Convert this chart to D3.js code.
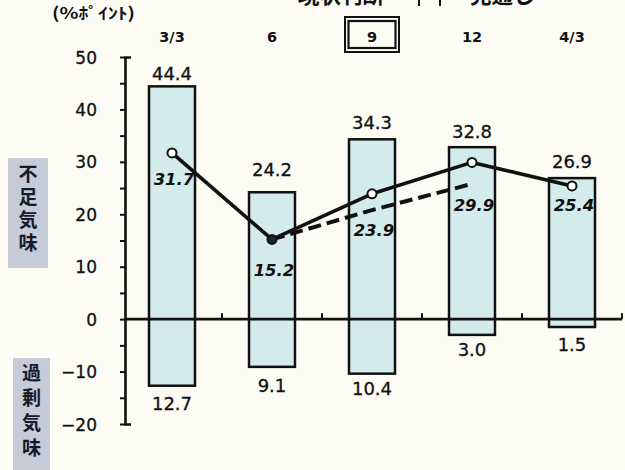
<!DOCTYPE html>
<html><head><meta charset="utf-8">
<script src="https://cdn.jsdelivr.net/npm/d3@7"></script>
<style>
html,body{margin:0;padding:0;background:#fcfcf5;}
svg{display:block;}
</style></head>
<body>
<svg id="chart" width="625" height="470"></svg>
<script>
// ---- data ----
const categories = ["3/3", "6", "9", "12", "4/3"];
const shortage = [44.4, 24.2, 34.3, 32.8, 26.9];      // 不足気味 (bar top)
const surplus = [12.7, 9.1, 10.4, 3.0, 1.5];          // 過剰気味 (bar bottom, shown positive)
const currentDI = [31.7, 15.2, 23.9, 29.9, 25.4];      // 現状判断 (solid line)
const outlookCats = ["6", "9", "12"];
const outlookDI = [15.2, 20.8, 25.8];                  // 見通し (dashed line)
const yTicks = [-20, -15, -10, -5, 0, 5, 10, 15, 20, 25, 30, 35, 40, 45, 50];
const highlightCat = "9";

// ---- layout ----
const svg = d3.select("#chart");
const fontNum = "'DejaVu Sans', 'Liberation Sans', Arial, sans-serif";
const fontJP = "'Noto Sans CJK JP', 'Noto Sans CJK SC', sans-serif";

const y = d3.scaleLinear().domain([-20, 50]).range([424, 57]);
const x = d3.scaleBand().domain(categories).range([122, 622]).paddingInner(0.54).paddingOuter(0.27);
const cx = c => x(c) + x.bandwidth() / 2;
const axisX = 125;

// background
svg.append("rect").attr("width", 625).attr("height", 470).attr("fill", "#fcfcf5");

// bars
const bars = svg.append("g");
bars.selectAll("rect").data(categories).join("rect")
  .attr("x", c => x(c))
  .attr("y", (c, i) => y(shortage[i]))
  .attr("width", x.bandwidth())
  .attr("height", (c, i) => y(-surplus[i]) - y(shortage[i]))
  .attr("fill", "#d3ebea")
  .attr("stroke", "#111")
  .attr("stroke-width", 2.5);

// y axis
const yAxis = d3.axisLeft(y).tickValues(yTicks)
  .tickFormat(d => d % 10 === 0 ? (d < 0 ? "\u2212" + Math.abs(d) : d) : "")
  .tickSizeInner(5).tickSizeOuter(-6).tickPadding(23);
const gy = svg.append("g").attr("transform", `translate(${axisX},0)`).call(yAxis);
gy.select(".domain").attr("stroke", "#111").attr("stroke-width", 2.6);
gy.selectAll(".tick line").attr("stroke", "#111").attr("stroke-width", 2);
gy.selectAll(".tick text").attr("font-family", fontNum).attr("font-size", 17)
  .attr("fill", "#111").attr("dy", "0.36em").attr("stroke", "#111").attr("stroke-width", 0.3);

// zero line with upward ticks at band boundaries
const xEnd = cx(categories[categories.length - 1]) + x.step() / 2;
svg.append("line").attr("x1", axisX).attr("x2", xEnd)
  .attr("y1", y(0)).attr("y2", y(0)).attr("stroke", "#111").attr("stroke-width", 2.6);
svg.append("g").selectAll("line").data(categories).join("line")
  .attr("x1", c => cx(c) + x.step() / 2).attr("x2", c => cx(c) + x.step() / 2)
  .attr("y1", y(0)).attr("y2", y(0) - 6)
  .attr("stroke", "#111").attr("stroke-width", 2);

// category labels on top
svg.append("g").selectAll("text").data(categories).join("text")
  .attr("x", cx).attr("y", 41.5)
  .attr("text-anchor", "middle")
  .attr("font-family", fontNum).attr("font-weight", "bold").attr("font-size", 14.5)
  .attr("fill", "#111").text(d => d);
// highlighted (double box) category
const hx = cx(highlightCat);
svg.append("rect").attr("x", hx - 27).attr("y", 17).attr("width", 54).attr("height", 35)
  .attr("fill", "none").attr("stroke", "#111").attr("stroke-width", 2);
svg.append("rect").attr("x", hx - 23.5).attr("y", 21).attr("width", 47).attr("height", 27)
  .attr("fill", "none").attr("stroke", "#111").attr("stroke-width", 2.2);

// bar value labels
const topOff = [13, 23, 17, 16, 17];
const botOff = [18, 19, 15, 15, 18];
svg.append("g").selectAll("text").data(categories).join("text")
  .attr("x", cx).attr("y", (c, i) => y(shortage[i]) - topOff[i])
  .attr("dy", "0.36em").attr("text-anchor", "middle")
  .attr("font-family", fontNum).attr("font-size", 18).attr("fill", "#111")
  .attr("stroke", "#111").attr("stroke-width", 0.3)
  .text((c, i) => shortage[i].toFixed(1));
svg.append("g").selectAll("text").data(categories).join("text")
  .attr("x", cx).attr("y", (c, i) => y(-surplus[i]) + botOff[i])
  .attr("dy", "0.36em").attr("text-anchor", "middle")
  .attr("font-family", fontNum).attr("font-size", 18).attr("fill", "#111")
  .attr("stroke", "#111").attr("stroke-width", 0.3)
  .text((c, i) => surplus[i].toFixed(1));

// dashed outlook line
const line = d3.line().x(d => d[0]).y(d => d[1]);
svg.append("path")
  .attr("d", line(outlookCats.map((c, i) => [cx(c), y(outlookDI[i])])))
  .attr("fill", "none").attr("stroke", "#111").attr("stroke-width", 4)
  .attr("stroke-dasharray", "13,6").attr("stroke-linecap", "butt");

// solid current line
svg.append("path")
  .attr("d", line(categories.map((c, i) => [cx(c), y(currentDI[i])])))
  .attr("fill", "none").attr("stroke", "#111").attr("stroke-width", 3.6)
  .attr("stroke-linejoin", "round");
svg.append("g").selectAll("circle").data(categories).join("circle")
  .attr("cx", cx).attr("cy", (c, i) => y(currentDI[i])).attr("r", 4.5)
  .attr("fill", (c, i) => c === outlookCats[0] ? "#1c2438" : "#fff")
  .attr("stroke", "#111").attr("stroke-width", 2);

// line value labels (bold italic)
const lineOff = [26, 31, 36, 43, 19];
svg.append("g").selectAll("text").data(categories).join("text")
  .attr("x", (c, i) => cx(c) + 2).attr("y", (c, i) => y(currentDI[i]) + lineOff[i])
  .attr("dy", "0.36em").attr("text-anchor", "middle")
  .attr("font-family", fontNum).attr("font-weight", "bold").attr("font-style", "italic")
  .attr("font-size", 16.5).attr("fill", "#111")
  .text((c, i) => currentDI[i].toFixed(1));

// unit label
svg.append("text").attr("x", 52).attr("y", 19)
  .attr("font-family", fontJP).attr("font-weight", "bold").attr("font-size", 16)
  .attr("textLength", 83).attr("lengthAdjust", "spacingAndGlyphs")
  .attr("fill", "#111").text("(%ﾎﾟｲﾝﾄ)");

// side labels (vertical text)
function sideLabel(x0, y0, w, h, label, spacing, startY) {
  svg.append("rect").attr("x", x0).attr("y", y0).attr("width", w).attr("height", h).attr("fill", "#c6cbd7");
  svg.append("text")
    .attr("x", x0 + w / 2).attr("y", startY)
    .attr("writing-mode", "tb").style("writing-mode", "vertical-rl")
    .attr("letter-spacing", spacing)
    .attr("font-family", fontJP).attr("font-weight", "bold").attr("font-size", 19)
    .attr("fill", "#151a2a").text(label);
}
sideLabel(8, 158, 40, 110, "不足気味", 4, 164);
sideLabel(13, 358, 37, 112, "過剰気味", 6, 363);

// legend (cut off at top edge)
svg.append("text").attr("x", 298).attr("y", 3)
  .attr("font-family", fontJP).attr("font-weight", "bold").attr("font-size", 21.5)
  .attr("fill", "#111").text("現状判断");
svg.append("text").attr("x", 470).attr("y", 3)
  .attr("font-family", fontJP).attr("font-weight", "bold").attr("font-size", 21.5)
  .attr("fill", "#111").text("見通し");
svg.append("g").selectAll("line").data([419, 440]).join("line")
  .attr("x1", d => d).attr("x2", d => d).attr("y1", 0).attr("y2", 6)
  .attr("stroke", "#111").attr("stroke-width", 2);
</script>
</body></html>
